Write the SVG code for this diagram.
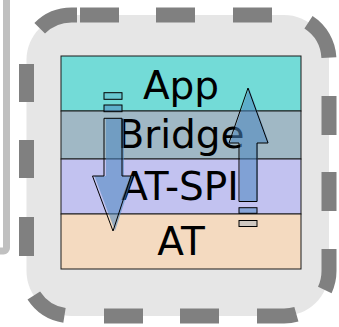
<svg xmlns="http://www.w3.org/2000/svg" width="339" height="327" viewBox="0 0 339 327">
  <style>
    .lbl { font-family: "DejaVu Sans", sans-serif; font-size: 39px; fill: #000; text-anchor: middle; }
    .layer { stroke: #1a1a1a; stroke-width: 1; }
    .dash { fill: none; stroke: #808080; stroke-width: 15; stroke-linecap: butt; }
    .afill { fill: #4a86c0; fill-opacity: 0.55; stroke: none; }
    .aline { fill: none; stroke: #000; stroke-width: 1; }
    .tail1 { fill: #4a86c0; fill-opacity: 0.5; stroke: #000; stroke-width: 1; }
    .tail2 { fill: #4a86c0; fill-opacity: 0.22; stroke: #000; stroke-width: 1; }
  </style>
  <rect width="339" height="327" fill="#ffffff"/>
  <g id="side-frame">
    <rect x="-100" y="-20" width="106.5" height="271" rx="3" fill="none" stroke="#c0c0c0" stroke-width="7"/>
  </g>
  <g id="container">
    <rect x="26.5" y="15" width="302.5" height="301" rx="45" fill="#e6e6e6"/>
    <path class="dash" d="M39.7,28.2 A45,45 0 0 1 71.5,15 L77,15 M80,15 H119 M156,15 H195 M233,15 H272 M308.5,22.3 A45,45 0 0 1 328.9,57.6 M329,96 V135 M329,172 V211 M329,249 V271 A45,45 0 0 1 324.8,290 M296.4,314.3 A45,45 0 0 1 284,316 L257,316 M219,316 H180 M143,316 H104 M64.5,315.4 A45,45 0 0 1 33.8,295.5 M26.5,256 V217 M26.5,178 V140 M26.5,102 V64"/>
  </g>
  <g id="layer-app">
    <rect class="layer" x="61" y="56" width="240" height="55" fill="#73dbd7"/>
    <text class="lbl" x="181" y="99">App</text>
  </g>
  <g id="layer-bridge">
    <rect class="layer" x="61" y="111" width="240" height="48" fill="#a0b8c5"/>
    <text class="lbl" x="181" y="148">Bridge</text>
  </g>
  <g id="layer-atspi">
    <rect class="layer" x="61" y="159" width="240" height="55" fill="#c2c2f0"/>
    <text class="lbl" x="180" y="200">AT-SPI</text>
  </g>
  <g id="layer-at">
    <rect class="layer" x="61" y="214" width="240" height="55" fill="#f4dac0"/>
    <text class="lbl" x="181" y="255">AT</text>
  </g>
  <g id="connectors">
    <g id="arrow-down">
      <rect class="tail2" x="104" y="92.7" width="18" height="6.6"/>
      <rect class="tail1" x="104" y="105" width="18" height="6.7"/>
      <polygon class="afill" transform="translate(2,0)" points="104,118.3 122,118.3 122,176 131,176 113,231 92.5,176 104,176"/>
      <polygon class="aline" points="104,118.3 122,118.3 122,176 131,176 113,231 92.5,176 104,176"/>
    </g>
    <g id="arrow-up">
      <polygon class="afill" transform="translate(1,0)" points="239,201.5 257,201.5 257,143 268,143 248,88 229,143 239,143"/>
      <polygon class="aline" points="239,201.5 257,201.5 257,143 268,143 248,88 229,143 239,143"/>
      <rect class="tail1" x="239" y="207.7" width="18" height="5.6"/>
      <rect class="tail2" x="239" y="220.5" width="18" height="6"/>
    </g>
  </g>
</svg>
